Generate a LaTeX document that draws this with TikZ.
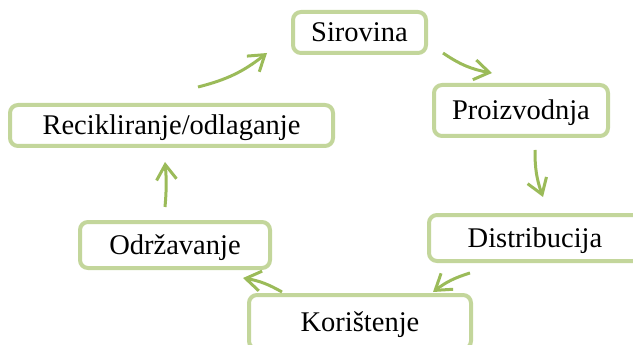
\documentclass[tikz,border=0pt]{standalone}
\usepackage{fontspec}
\setmainfont{Liberation Serif}
\usetikzlibrary{arrows.meta}
\definecolor{boxgreen}{HTML}{C3D69B}
\definecolor{arrowgreen}{HTML}{9BBB59}
\tikzset{
  stagebox/.style={draw=boxgreen, line width=4pt, rounded corners=8pt, fill=white,
    inner sep=0pt, text height=22pt, text depth=3.5pt,
    font=\fontsize{28.5}{32}\selectfont},
  cyclearrow/.style={draw=arrowgreen, line width=3pt,
    -{Straight Barb[length=15pt,width=20pt,line width=3pt]}},
}
\begin{document}
\begin{tikzpicture}[x=1pt,y=-1pt]
\useasboundingbox (0,0) rectangle (633,345);
\node[stagebox, minimum width=133pt, minimum height=41pt] (sir) at (359.5,32.5) {Sirovina};
\node[stagebox, minimum width=174pt, minimum height=51pt] (pro) at (521,110.5) {Proizvodnja};
\node[stagebox, minimum width=212pt, minimum height=46pt] (dis) at (535,238) {Distribucija};
\node[stagebox, minimum width=222pt, minimum height=54pt] (kor) at (360,322) {Korištenje};
\node[stagebox, minimum width=190pt, minimum height=46pt] (odr) at (175,245) {Održavanje};
\node[stagebox, minimum width=323pt, minimum height=41pt] (rec) at (171.5,125.5) {Recikliranje/odlaganje};
\coordinate (a1s) at (443,53);  \coordinate (a1e) at (492,73);
\coordinate (a2s) at (535,150); \coordinate (a2e) at (543,197);
\coordinate (a3s) at (470,273); \coordinate (a3e) at (433,292);
\coordinate (a4s) at (282,292); \coordinate (a4e) at (243,278);
\coordinate (a5s) at (165,207); \coordinate (a5e) at (165,162);
\coordinate (a6s) at (198,87);  \coordinate (a6e) at (267,53);
\draw[cyclearrow] (a1s) to[bend right=12] (a1e);
\draw[cyclearrow] (a2s) to[bend right=10] (a2e);
\draw[cyclearrow] (a3s) to[bend right=10] (a3e);
\draw[cyclearrow] (a4s) to[bend right=10] (a4e);
\draw[cyclearrow] (a5s) to[bend right=5] (a5e);
\draw[cyclearrow] (a6s) to[bend right=12] (a6e);
\end{tikzpicture}
\end{document}
